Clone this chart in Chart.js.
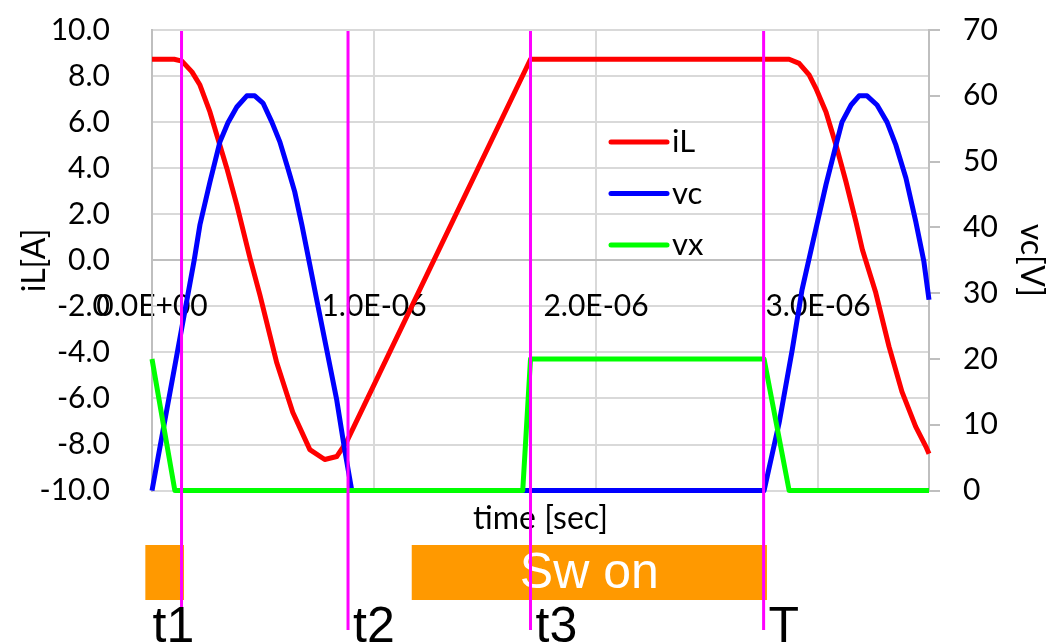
<!DOCTYPE html>
<html>
<head>
<meta charset="utf-8">
<title>iL / vc / vx</title>
<script src="https://cdn.jsdelivr.net/npm/chart.js@4.4.0/dist/chart.umd.min.js"></script>
<style>
    body { margin: 0; background: #fff; }
    #wrap { width: 1051px; height: 643px; }
</style>
</head>
<body>
<div id="wrap"><canvas id="chart" width="1051" height="643"></canvas></div>
<script>
// time is kept in microseconds, tick labels are printed in seconds
const tIL = [0, 0.10, 0.135, 0.18, 0.216, 0.261, 0.292, 0.337, 0.382, 0.441, 0.486, 0.562, 0.634, 0.711, 0.778, 0.832, 0.877,
    1.705, 2.87, 2.915, 2.96, 2.99, 3.036, 3.081, 3.126, 3.171, 3.2, 3.26, 3.32, 3.378, 3.44, 3.486, 3.5];
const iL = [8.73, 8.73, 8.65, 8.18, 7.61, 6.44, 5.44, 4.0, 2.41, 0.11, -1.5, -4.45, -6.6, -8.22, -8.65, -8.52, -7.87,
    8.73, 8.73, 8.55, 8.05, 7.48, 6.44, 5.01, 3.41, 1.67, 0.46, -1.4, -3.75, -5.7, -7.22, -8.09, -8.4];

const tVC = [0, 0.19, 0.216, 0.261, 0.306, 0.342, 0.382, 0.427, 0.463, 0.5, 0.54, 0.576, 0.612, 0.643, 0.675, 0.711, 0.742, 0.787, 0.832, 0.868, 0.9,
    2.757, 2.825, 2.884, 2.928, 2.969, 3.036, 3.081, 3.108, 3.149, 3.185, 3.221, 3.266, 3.311, 3.351, 3.396, 3.441, 3.477, 3.5];
const vC = [0, 35, 40.4, 46.9, 53, 55.9, 58.3, 60, 60, 58.9, 56, 53, 49, 45.4, 40.4, 34.3, 29, 21.4, 13.8, 6.2, 0,
    0, 10.3, 21.4, 30.5, 36.6, 46.5, 52.5, 56, 58.6, 60, 60, 58.6, 56, 52.5, 47.5, 40.8, 34.8, 29];

const tVX = [0, 0.103, 1.67, 1.705, 2.757, 2.87, 3.5];
const vX = [20, 0, 0, 20, 20, 0, 0];

const xTicks = [0, 1, 2, 3];

// switching instants and switch-on intervals
const markerTimes = [0.133, 0.883, 1.705, 2.755];
const markerNames = ['t1', 't2', 't3', 'T'];
const swOnStart = [-0.03, 1.17];
const swOnEnd = [0.144, 2.77];
const swOnText = ['', 'Sw on'];

const tickFont = { family: 'Lato', size: 30 };
const titleFont = { family: 'Lato', size: 32 };

function pts(ts, vs) {
    return ts.map((t, i) => ({ x: t, y: vs[i] }));
}

// 1 -> "1.0E-06"
function sci(us) {
    const parts = (us * 1e-6).toExponential(1).split('e');
    const n = parseInt(parts[1], 10);
    return parts[0] + 'E' + (n < 0 ? '-' : '+') + String(Math.abs(n)).padStart(2, '0');
}

// keep the big label gap from pushing the plot down
function fixWidth(w) {
    return s => {
        s.width = w;
        s.paddingTop = 0;
        s.paddingBottom = 0;
    };
}

const overlay = {
    id: 'overlay',
    afterDraw(chart) {
        const ctx = chart.ctx;
        const area = chart.chartArea;
        const xs = chart.scales.x;
        ctx.save();

        // legend inside the plot
        chart.data.datasets.forEach((ds, i) => {
            const y = 142 + i * 51.5;
            ctx.strokeStyle = ds.borderColor;
            ctx.lineWidth = 5;
            ctx.lineCap = 'round';
            ctx.beginPath();
            ctx.moveTo(611, y);
            ctx.lineTo(667, y);
            ctx.stroke();
            ctx.fillStyle = '#000';
            ctx.font = '31px Lato';
            ctx.textAlign = 'left';
            ctx.textBaseline = 'middle';
            ctx.fillText(ds.label, 672, y);
        });

        // Sw on bars
        swOnStart.forEach((s, i) => {
            const x0 = xs.getPixelForValue(s);
            const x1 = xs.getPixelForValue(swOnEnd[i]);
            ctx.fillStyle = '#ff9900';
            ctx.fillRect(x0, 545, x1 - x0, 55);
            if (swOnText[i]) {
                ctx.fillStyle = '#fff';
                ctx.font = '50px "Liberation Sans"';
                ctx.textAlign = 'center';
                ctx.textBaseline = 'middle';
                ctx.fillText(swOnText[i], (x0 + x1) / 2, 574);
            }
        });

        // marker lines and their names
        const labelDx = [-29, 5, 5, 5];
        markerTimes.forEach((t, i) => {
            const px = xs.getPixelForValue(t);
            ctx.strokeStyle = '#ff00ff';
            ctx.lineWidth = 3;
            ctx.lineCap = 'butt';
            ctx.beginPath();
            ctx.moveTo(px, area.top + 1);
            ctx.lineTo(px, 630);
            ctx.stroke();
            ctx.fillStyle = '#000';
            ctx.font = '50px "Liberation Sans"';
            ctx.textAlign = 'left';
            ctx.textBaseline = 'alphabetic';
            ctx.fillText(markerNames[i], px + labelDx[i], 642);
        });

        ctx.restore();
    }
};

const ctx = document.getElementById('chart').getContext('2d');
new Chart(ctx, {
    type: 'scatter',
    data: {
        datasets: [{
            label: 'iL',
            data: pts(tIL, iL),
            yAxisID: 'y',
            borderColor: '#ff0000',
            borderWidth: 5,
            clip: false,
            order: 3
        }, {
            label: 'vc',
            data: pts(tVC, vC),
            yAxisID: 'y1',
            borderColor: '#0000ff',
            borderWidth: 5,
            clip: false,
            order: 2
        }, {
            label: 'vx',
            data: pts(tVX, vX),
            yAxisID: 'y1',
            borderColor: '#00ff00',
            borderWidth: 5,
            clip: false,
            order: 1
        }]
    },
    options: {
        responsive: false,
        animation: false,
        showLine: true,
        elements: {
            point: { radius: 0 },
            line: { tension: 0, borderJoinStyle: 'round', fill: false }
        },
        layout: { padding: { top: 30, left: 0, right: 0, bottom: 0 } },
        plugins: {
            legend: { display: false },
            tooltip: { enabled: false }
        },
        scales: {
            x: {
                type: 'linear',
                min: 0,
                max: 3.5,
                position: { y: 0 },
                afterBuildTicks: s => { s.ticks = xTicks.map(v => ({ value: v })); },
                ticks: { font: tickFont, color: '#000', padding: 28, maxRotation: 0, callback: v => sci(v) },
                grid: { color: '#d9d9d9', lineWidth: 2, drawTicks: false },
                border: { color: '#bfbfbf', width: 2 }
            },
            x2: {
                type: 'linear',
                position: 'bottom',
                ticks: { display: false },
                grid: { display: false, drawTicks: false },
                border: { display: false },
                title: { display: true, text: 'time [sec]', font: titleFont, color: '#000', padding: { top: 9, bottom: 105 } }
            },
            y: {
                type: 'linear',
                position: 'left',
                min: -10,
                max: 10,
                ticks: { stepSize: 2, font: tickFont, color: '#000', padding: 42, callback: v => v.toFixed(1) },
                grid: { color: '#d9d9d9', lineWidth: 2, drawTicks: false },
                border: { color: '#bfbfbf', width: 2 },
                title: { display: true, text: 'iL[A]', font: titleFont, color: '#000', padding: { top: 15, bottom: 0 } },
                afterFit: fixWidth(152)
            },
            y1: {
                type: 'linear',
                position: 'right',
                min: 0,
                max: 70,
                ticks: { stepSize: 10, font: tickFont, color: '#000', padding: 23 },
                grid: { drawOnChartArea: false, drawTicks: true, tickLength: 11, color: '#bfbfbf', lineWidth: 2 },
                border: { color: '#bfbfbf', width: 2 },
                title: { display: true, text: 'vc[V]', font: titleFont, color: '#000', padding: { top: 0, bottom: 0 } },
                afterFit: fixWidth(122)
            }
        }
    },
    plugins: [overlay]
});
</script>
</body>
</html>
